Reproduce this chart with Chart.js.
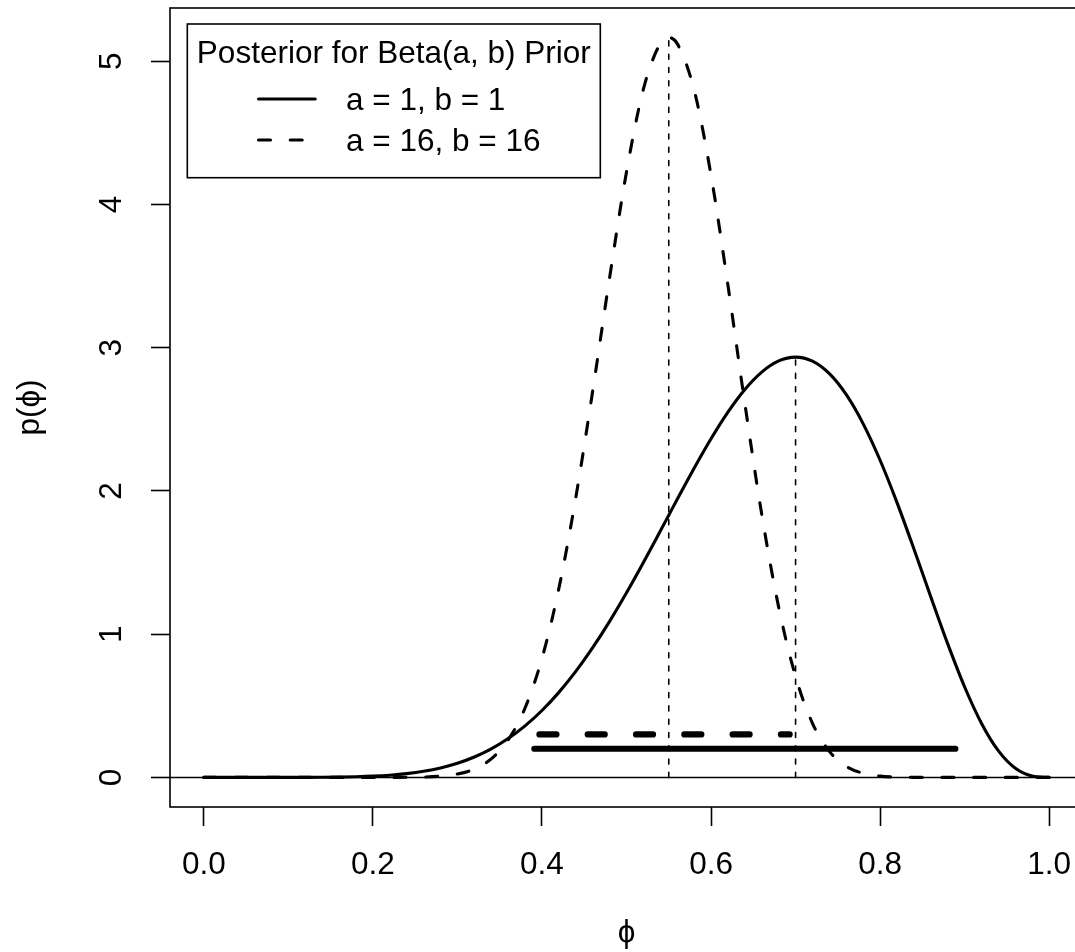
<!DOCTYPE html>
<html>
<head>
<meta charset="utf-8">
<script src="https://cdn.jsdelivr.net/npm/chart.js@4.4.1/dist/chart.umd.min.js"></script>
<style>
  html, body { margin: 0; padding: 0; background: #fff; overflow: hidden; }
  #wrap { position: relative; width: 1083px; height: 952px; }
</style>
</head>
<body>
<div id="wrap"><canvas id="PosteriorChart"></canvas></div>
<script>
// phi grid and posterior densities
var phi = [0, 0.02, 0.04, 0.06, 0.08, 0.10, 0.12, 0.14, 0.16, 0.18,
    0.20, 0.22, 0.24, 0.26, 0.28, 0.30, 0.32, 0.34, 0.36, 0.38,
    0.40, 0.42, 0.44, 0.46, 0.48, 0.50, 0.52, 0.54, 0.55, 0.56, 0.58,
    0.60, 0.62, 0.64, 0.66, 0.68, 0.70, 0.72, 0.74, 0.76, 0.78,
    0.80, 0.82, 0.84, 0.86, 0.88, 0.90, 0.92, 0.94, 0.96, 0.98, 1.00];

// a = 1, b = 1
var postFlat = [0, 0, 0, 0, 0, 0.0001, 0.0003, 0.0009, 0.0021, 0.0045,
    0.0087, 0.0156, 0.0266, 0.0430, 0.0665, 0.0990, 0.1426, 0.1993, 0.2712, 0.3599,
    0.4671, 0.5937, 0.7401, 0.9059, 1.0896, 1.2891, 1.5008, 1.7203, 1.8312, 1.9420, 2.1594,
    2.3649, 2.5507, 2.7088, 2.8302, 2.9081, 2.9351, 2.9065, 2.8191, 2.6724, 2.4689,
    2.2146, 1.9190, 1.5955, 1.2602, 0.9322, 0.6313, 0.3770, 0.1849, 0.0635, 0.0092, 0];

// a = 16, b = 16
var postBeta16 = [0, 0, 0, 0, 0, 0, 0, 0, 0, 0,
    0.0000, 0.0002, 0.0008, 0.0028, 0.0087, 0.0238, 0.0583, 0.1293, 0.2613, 0.4848,
    0.8305, 1.3198, 1.9529, 2.6982, 3.4890, 4.2278, 4.8055, 5.1242, 5.1660, 5.1239, 4.7998,
    4.2045, 3.4360, 2.6106, 1.8362, 1.1891, 0.7042, 0.3780, 0.1820, 0.0775, 0.0287,
    0.0090, 0.0023, 0.0005, 0, 0, 0, 0, 0, 0, 0, 0];

// modes (dotted verticals) and intervals (thick horizontals): [flat, beta16]
var modePhi = [0.70, 0.55];
var modeDensity = [2.935, 5.166];
var intervalLow = [0.391, 0.397];
var intervalHigh = [0.889, 0.693];
var intervalLevel = [0.2, 0.3];

var xTicks = [0, 0.2, 0.4, 0.6, 0.8, 1.0];
var xTickLabels = ['0.0', '0.2', '0.4', '0.6', '0.8', '1.0'];
var yTicks = [0, 1, 2, 3, 4, 5];
var legendTitle = 'Posterior for Beta(a, b) Prior';
var legendLabels = ['a = 1, b = 1', 'a = 16, b = 16'];

var FONT = "'Liberation Sans', Arial, Helvetica, sans-serif";
var FS = 31.5;
Chart.defaults.font.family = FONT;
Chart.defaults.font.size = FS;
Chart.defaults.color = '#000';

function pts(xs, ys) {
    return xs.map(function (x, i) { return { x: x, y: ys[i] }; });
}

var DASH_CURVE = [12, 19.7];

var frame = {
    id: 'frame',
    beforeDatasetsDraw: function (chart) {
        var ctx = chart.ctx, a = chart.chartArea;
        var y0 = chart.scales.y.getPixelForValue(0);
        ctx.save();
        ctx.strokeStyle = '#000';
        ctx.lineWidth = 1.5;
        ctx.beginPath();
        ctx.moveTo(a.left, y0);
        ctx.lineTo(a.right, y0);
        ctx.stroke();
        ctx.restore();
    },
    afterDraw: function (chart) {
        var ctx = chart.ctx, a = chart.chartArea;
        ctx.save();
        ctx.strokeStyle = '#000';
        ctx.lineWidth = 1.6;
        ctx.strokeRect(a.left, a.top, a.right - a.left, a.bottom - a.top);

        // legend box
        var lx = 187.3, ly = 24, lw = 413, lh = 153.7;
        ctx.fillStyle = '#fff';
        ctx.fillRect(lx, ly, lw, lh);
        ctx.strokeRect(lx, ly, lw, lh);
        ctx.fillStyle = '#000';
        ctx.font = FS + 'px ' + FONT;
        ctx.textBaseline = 'alphabetic';
        ctx.textAlign = 'center';
        ctx.fillText(legendTitle, lx + lw / 2, 63.3);
        ctx.textAlign = 'left';
        var rows = [99, 140];
        ctx.lineCap = 'round';
        ctx.lineWidth = 3.1;
        for (var i = 0; i < legendLabels.length; i++) {
            ctx.setLineDash(i === 0 ? [] : DASH_CURVE);
            ctx.beginPath();
            ctx.moveTo(258.5, rows[i]);
            ctx.lineTo(315.2, rows[i]);
            ctx.stroke();
            ctx.fillText(legendLabels[i], 346, rows[i] + 11.2);
        }
        ctx.restore();
    }
};

var lineBase = {
    showLine: true,
    pointRadius: 0,
    pointHoverRadius: 0,
    borderColor: '#000',
    backgroundColor: '#000',
    fill: false,
    borderCapStyle: 'round',
    borderJoinStyle: 'round'
};

function ds(extra) {
    return Object.assign({}, lineBase, extra);
}

var ctx = document.getElementById('PosteriorChart').getContext('2d');
var chart = new Chart(ctx, {
    type: 'scatter',
    data: {
        datasets: [
            ds({ label: legendLabels[0], data: pts(phi, postFlat), borderWidth: 3.1, cubicInterpolationMode: 'monotone' }),
            ds({ label: legendLabels[1], data: pts(phi, postBeta16), borderWidth: 3.1, borderDash: DASH_CURVE, cubicInterpolationMode: 'monotone' }),
            ds({ data: pts([intervalLow[0], intervalHigh[0]], [intervalLevel[0], intervalLevel[0]]), borderWidth: 6.2 }),
            ds({ data: pts([intervalLow[1], intervalHigh[1]], [intervalLevel[1], intervalLevel[1]]), borderWidth: 6.2, borderDash: [17, 31.3] }),
            ds({ data: pts([modePhi[0], modePhi[0]], [0, modeDensity[0]]), borderWidth: 1.6, borderDash: [5, 8.3] }),
            ds({ data: pts([modePhi[1], modePhi[1]], [0, modeDensity[1]]), borderWidth: 1.6, borderDash: [5, 8.3] })
        ]
    },
    options: {
        responsive: true,
        maintainAspectRatio: false,
        animation: false,
        devicePixelRatio: 1,
        layout: { padding: { top: 8, left: 0, right: 0, bottom: 0 } },
        plugins: {
            legend: { display: false },
            tooltip: { enabled: false }
        },
        scales: {
            x: {
                type: 'linear',
                position: 'bottom',
                min: -0.04,
                max: 1.04,
                afterBuildTicks: function (s) { s.ticks = xTicks.map(function (v) { return { value: v }; }); },
                afterFit: function (s) {
                    s.height = 145;
                    s.paddingLeft = 0; s.paddingRight = 0; s.paddingTop = 0; s.paddingBottom = 0;
                },
                ticks: {
                    autoSkip: false,
                    minRotation: 0,
                    maxRotation: 0,
                    padding: 20,
                    color: '#000',
                    callback: function (v, i) { return xTickLabels[i]; }
                },
                grid: {
                    drawOnChartArea: false,
                    drawTicks: true,
                    tickLength: 19,
                    tickWidth: 1.6,
                    tickColor: '#000',
                    color: '#000'
                },
                border: { display: false },
                title: { display: true, text: '\u03d5', color: '#000', padding: { top: 0, bottom: 0 } }
            },
            y: {
                type: 'linear',
                position: 'left',
                min: -0.2066,
                max: 5.3726,
                afterBuildTicks: function (s) { s.ticks = yTicks.map(function (v) { return { value: v }; }); },
                afterFit: function (s) {
                    s.width = 170;
                    s.paddingLeft = 0; s.paddingRight = 0; s.paddingTop = 0; s.paddingBottom = 0;
                },
                ticks: {
                    minRotation: 90,
                    maxRotation: 90,
                    crossAlign: 'center',
                    padding: 29.6,
                    color: '#000',
                    callback: function (v) { return String(v); }
                },
                grid: {
                    drawOnChartArea: false,
                    drawTicks: true,
                    tickLength: 19,
                    tickWidth: 1.6,
                    tickColor: '#000',
                    color: '#000'
                },
                border: { display: false },
                title: { display: true, text: 'p(\u03d5)', color: '#000', padding: { top: 11, bottom: 0 } }
            }
        }
    },
    plugins: [frame]
});
</script>
</body>
</html>
